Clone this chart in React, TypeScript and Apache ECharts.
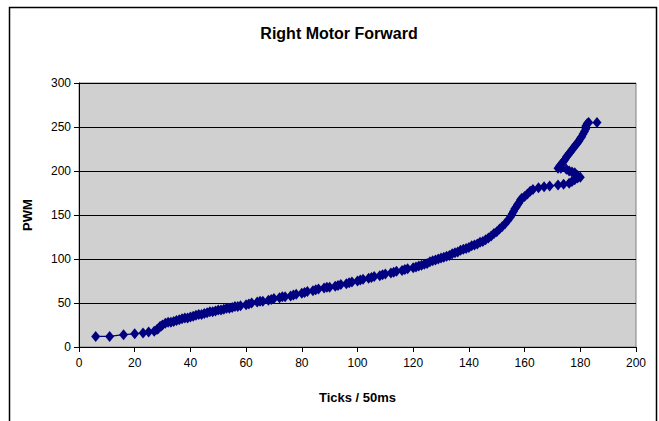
import React, { useEffect, useRef } from "react";
import * as echarts from "echarts";

const titleText = "Right Motor Forward";
const xAxisName = "Ticks / 50ms";
const yAxisName = "PWM";

const ticks = [
  6, 11, 16, 20, 23, 25, 27, 28, 28.5, 29, 29.5, 30, 31, 32, 33, 34, 35, 36, 37, 38, 39, 40,
  41, 42, 43, 44, 45, 46, 47, 48, 49, 50, 51, 52, 53, 54, 55, 56, 57, 58, 60, 61, 62, 64, 65,
  66, 68, 69, 70, 72, 73, 74, 76, 77, 78, 80, 81, 82, 84, 85, 86, 88, 89, 90, 92, 93, 94, 96,
  97, 98, 100, 101, 102, 104, 105, 106, 108, 109, 110, 112, 113, 114, 116, 117, 118, 120, 121,
  122, 123, 124, 125, 126, 127, 128, 129, 130, 131, 132, 133, 134, 135, 136, 137, 138, 139,
  140, 141, 142, 143, 144, 145, 146, 147, 148, 149, 150, 151, 152, 153, 154, 155, 155.5, 156,
  156.5, 157, 157.5, 158, 158.5, 159, 160, 161, 162, 163, 165, 167, 169, 172, 174, 176, 177,
  178, 179, 180, 179, 178, 177, 176, 175, 173, 172, 172.5, 173, 173.5, 174, 174.5, 175, 175.5,
  176, 176.5, 177, 177.5, 178, 178.5, 179, 179.5, 180, 180.5, 181, 181.5, 182, 182, 182.5, 183,
  186,
];

const pwm = [
  12, 12, 14, 15, 16, 17, 18, 20, 21, 23, 24, 25, 27, 28, 28, 29, 30, 31, 32, 33, 33, 34,
  35, 36, 37, 37, 38, 39, 40, 40, 41, 42, 42, 43, 44, 44, 45, 46, 46, 47, 48, 49, 50, 51, 52,
  52, 53, 54, 55, 56, 57, 57, 58, 59, 60, 61, 62, 63, 64, 65, 66, 67, 68, 68, 69, 70, 71, 72,
  73, 74, 75, 76, 77, 78, 79, 80, 81, 82, 83, 84, 85, 86, 87, 88, 89, 90, 91,
  92, 93, 94, 95, 97, 98, 99, 100, 101, 102, 103, 104, 106, 107, 108, 110, 111, 112,
  113, 115, 116, 117, 119, 120, 122, 124, 126, 129, 131, 134, 137, 140, 144, 148, 151, 154,
  157, 159, 162, 164, 167, 169, 171, 174, 177, 179, 181, 182, 183, 184, 185, 186, 188,
  190, 192, 193, 195, 198, 199, 200, 202, 203, 203, 205, 207, 209, 211, 213, 216, 218,
  220, 222, 224, 226, 228, 230, 232, 234, 237, 239, 242, 245, 248, 251, 254, 255,
  255,
];

const xTicks = { min: 0, max: 200, interval: 20 };
const yTicks = { min: 0, max: 300, interval: 50 };

export default function App() {
  const ref = useRef<HTMLDivElement>(null);
  useEffect(() => {
    if (!ref.current) return;
    const chart = echarts.init(ref.current, undefined, { renderer: "svg" });
    const data = ticks.map((t, i) => [t, pwm[i]]);
    const font = "Arial, 'Liberation Sans', sans-serif";
    chart.setOption({
      animation: false,
      backgroundColor: "#ffffff",
      title: {
        text: titleText,
        left: 334,
        top: 20,
        textAlign: "center",
        textStyle: { fontFamily: font, fontSize: 16, fontWeight: "bold", color: "#000" },
      },
      graphic: [
        {
          type: "rect",
          shape: { x: 9.5, y: 7.5, width: 647, height: 420 },
          style: { fill: "none", stroke: "#000", lineWidth: 1.5 },
          silent: true,
        },
      ],
      grid: {
        left: 79,
        right: 23,
        top: 83,
        bottom: 74,
        show: true,
        backgroundColor: "#D0D0D0",
        borderColor: "#808080",
        borderWidth: 1,
      },
      xAxis: {
        type: "value",
        min: xTicks.min,
        max: xTicks.max,
        interval: xTicks.interval,
        name: xAxisName,
        nameLocation: "middle",
        nameGap: 44,
        nameTextStyle: { fontFamily: font, fontSize: 13, fontWeight: "bold", color: "#000" },
        axisLine: { lineStyle: { color: "#000", width: 1 } },
        axisTick: { show: true, length: 5, lineStyle: { color: "#000" } },
        axisLabel: { fontFamily: font, fontSize: 12, color: "#000", margin: 10 },
        splitLine: { show: false },
      },
      yAxis: {
        type: "value",
        min: yTicks.min,
        max: yTicks.max,
        interval: yTicks.interval,
        name: yAxisName,
        nameLocation: "middle",
        nameGap: 45,
        nameTextStyle: { fontFamily: font, fontSize: 13, fontWeight: "bold", color: "#000" },
        axisLine: { show: true, lineStyle: { color: "#000", width: 1 } },
        axisTick: { show: true, length: 5, lineStyle: { color: "#000" } },
        axisLabel: { fontFamily: font, fontSize: 12, color: "#000", margin: 8 },
        splitLine: { show: true, lineStyle: { color: "#000", width: 1 } },
      },
      series: [
        {
          type: "line",
          data,
          symbol: "diamond",
          symbolSize: [9, 11],
          itemStyle: { color: "#000080" },
          lineStyle: { color: "#000080", width: 1.2 },
          silent: true,
        },
      ],
    });
    return () => chart.dispose();
  }, []);
  return (
    <div
      ref={ref}
      style={{ position: "fixed", left: 0, top: 0, width: 659, height: 421 }}
    />
  );
}
